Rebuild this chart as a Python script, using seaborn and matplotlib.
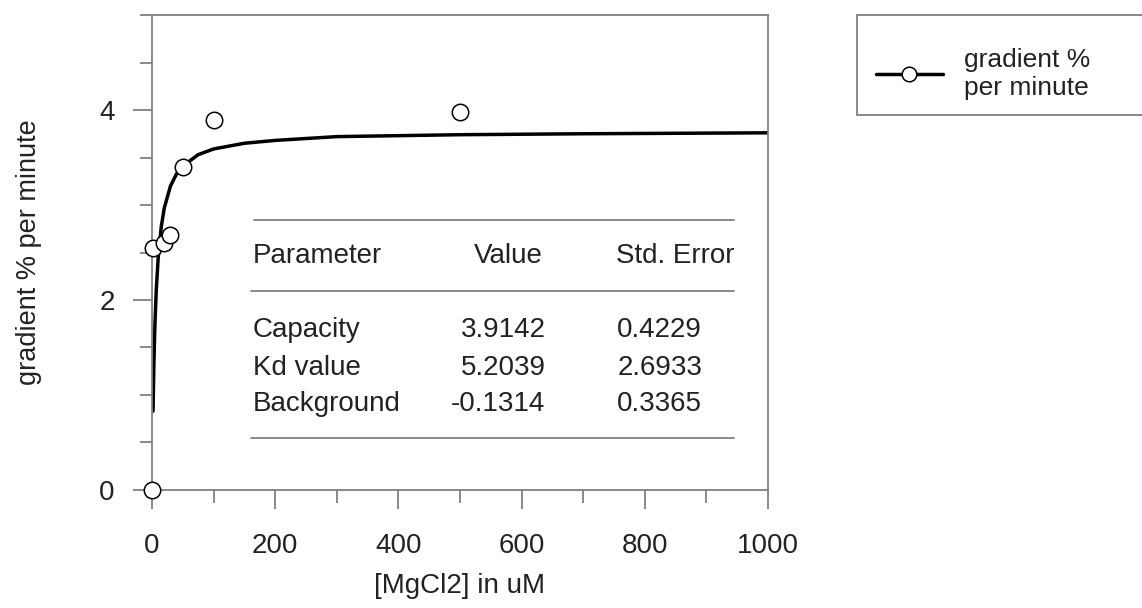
import seaborn as sns
import matplotlib
import pandas as pd
import numpy as np

matplotlib.use('Agg')
import matplotlib.pyplot as plt
from matplotlib.lines import Line2D
from matplotlib.patches import Rectangle

# measured points
mgcl2 = [0, 2, 20, 30, 50, 100, 500]
gradient = [0.0, 2.55, 2.60, 2.68, 3.40, 3.90, 3.98]

# fitted curve
fit_x = [1.7, 2, 3, 4, 5, 7, 10, 15, 20, 30, 40, 50, 75, 100, 150, 200, 300, 400, 500, 700, 1000]
fit_y = [0.83, 0.96, 1.30, 1.57, 1.79, 2.11, 2.44, 2.77, 2.97, 3.20, 3.33, 3.41, 3.53, 3.59,
         3.65, 3.68, 3.72, 3.73, 3.74, 3.75, 3.76]

params = ['Capacity', 'Kd value', 'Background']
values = ['3.9142', '5.2039', '-0.1314']
std_errors = ['0.4229', '2.6933', '0.3365']

sns.set_style('ticks')
plt.rcParams['font.family'] = ['Liberation Sans', 'DejaVu Sans']

grey = '#808080'
txt = '#222222'
fs = 20

fig = plt.figure(figsize=(11.42, 6.08), dpi=100)
ax = fig.add_axes([0.1331, 0.1941, 0.5394, 0.7812])

pts = pd.DataFrame({'x': mgcl2, 'y': gradient})
fit = pd.DataFrame({'x': fit_x, 'y': fit_y})

sns.lineplot(data=fit, x='x', y='y', ax=ax, color='black', linewidth=2.5, sort=True)
sns.scatterplot(data=pts, x='x', y='y', ax=ax, s=140, facecolor='white', edgecolor='black',
                linewidth=1.1, zorder=5, clip_on=False)

ax.set_xlim(0, 1000)
ax.set_ylim(0, 5)
ax.set_xticks([0, 200, 400, 600, 800, 1000])
ax.set_xticks(np.arange(100, 1000, 200), minor=True)
ax.set_yticks([0, 2, 4])
ax.set_yticks([0.5, 1, 1.5, 2.5, 3, 3.5, 4.5, 5], minor=True)

for s in ax.spines.values():
    s.set_color(grey)
    s.set_linewidth(1.3)

ax.tick_params(which='major', length=14, width=1.3, color=grey, labelsize=fs, labelcolor=txt, pad=13)
ax.tick_params(which='minor', length=9, width=1.3, color=grey)
ax.tick_params(axis='x', which='major', pad=17)

ax.set_xlabel('[MgCl2] in uM', fontsize=fs, color=txt, labelpad=10)
ax.set_ylabel('gradient % per minute', fontsize=19.5, color=txt, labelpad=41)

# parameter table inside the plot
line_kw = dict(color=grey, linewidth=1.3)
ax.plot([165, 945], [2.84, 2.84], **line_kw)
ax.plot([160, 945], [2.09, 2.09], **line_kw)
ax.plot([160, 945], [0.55, 0.55], **line_kw)

ax.text(164, 2.46, 'Parameter', fontsize=fs, color=txt, va='center', ha='left')
ax.text(578, 2.46, 'Value', fontsize=fs, color=txt, va='center', ha='center')
ax.text(945, 2.46, 'Std. Error', fontsize=fs, color=txt, va='center', ha='right')

row_y = [1.68, 1.28, 0.90]
for p, v, e, yy in zip(params, values, std_errors, row_y):
    ax.text(164, yy, p, fontsize=fs, color=txt, va='center', ha='left')
    ax.text(639, yy, v, fontsize=fs, color=txt, va='center', ha='right')
    ax.text(893, yy, e, fontsize=fs, color=txt, va='center', ha='right')

# legend box at the right
fig.patches.append(Rectangle((857 / 1142, 1 - 115 / 608), 0.3, 100 / 608,
                             transform=fig.transFigure, facecolor='white',
                             edgecolor=grey, linewidth=1.3))
handle = Line2D([], [], color='black', linewidth=2.5, marker='o', markersize=10.5,
                markerfacecolor='white', markeredgecolor='black', markeredgewidth=1.1)
fig.legend([handle], ['gradient %\nper minute'], loc='center left',
           bbox_to_anchor=(852 / 1142, 1 - 74 / 608), frameon=False, fontsize=19,
           handlelength=2.55, handletextpad=0.8, labelcolor=txt)

fig.savefig('out.png', dpi=100)
